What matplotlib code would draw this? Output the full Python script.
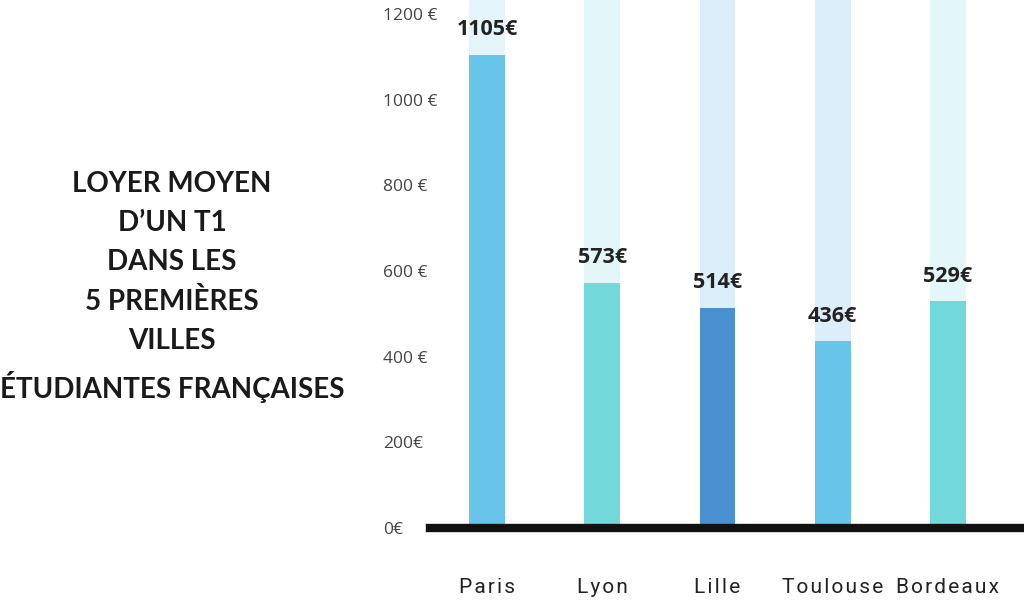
import matplotlib.pyplot as plt

cities = ["Paris", "Lyon", "Lille", "Toulouse", "Bordeaux"]
loyers = [1105, 573, 514, 436, 529]
bar_colors = ["#67C5EA", "#72D8D9", "#4A8FCF", "#67C5EA", "#72D8D9"]
bg_colors = ["#E3F5FA", "#E3F6F8", "#DCEEF9", "#DCEEF9", "#E3F6F8"]
yticks = [0, 200, 400, 600, 800, 1000, 1200]
ytick_labels = ["0€", "200€", "400 €", "600 €", "800 €", "1000 €", "1200 €"]

fig = plt.figure(figsize=(10.24, 6.02), dpi=100)
ax = fig.add_axes([430 / 1024, 1 - 528 / 602, 1 - 430 / 1024, 528 / 602])

x = list(range(len(cities)))
top = 1200 * 528 / 514
ax.bar(x, [top] * len(x), width=0.31, color=bg_colors, zorder=1)
ax.bar(x, loyers, width=0.31, color=bar_colors, zorder=2)

for xi, v in zip(x, loyers):
    ax.annotate(f"{v}€", (xi, v), xytext=(0, 18), textcoords="offset points",
                ha="center", va="center", fontsize=15.5, fontweight="bold",
                family="Open Sans", color="#222222")

ax.set_xlim(-57 / 115, 4 + 76 / 115)
ax.set_ylim(0, top)

for s in ["top", "right", "left"]:
    ax.spines[s].set_visible(False)
ax.spines["bottom"].set_linewidth(6)
ax.spines["bottom"].set_color("#111111")
ax.spines["bottom"].set_zorder(3)

# spaced-out city names, like the original
spaced = ["\u200a".join(c) for c in cities]
ax.set_xticks(x)
ax.set_xticklabels(spaced, fontsize=15, family=["Roboto", "DejaVu Sans"], color="#222222")
ax.tick_params(axis="x", length=0, pad=36)

ax.set_yticks(yticks)
ax.set_yticklabels(ytick_labels, fontsize=12.5, family="Open Sans", color="#444444")
ax.tick_params(axis="y", length=0, pad=34)
for lab in ax.get_yticklabels():
    lab.set_horizontalalignment("left")

fig.text(172 / 1024, 1 - 287 / 602,
         "LOYER MOYEN\nD’UN T1\nDANS LES\n5 PREMIÈRES\nVILLES\nÉTUDIANTES FRANÇAISES",
         ha="center", va="center", multialignment="center", linespacing=1.62,
         fontsize=20, fontweight="bold", family="Lato", color="#1a1a1a")

fig.savefig("out.png", dpi=100)
